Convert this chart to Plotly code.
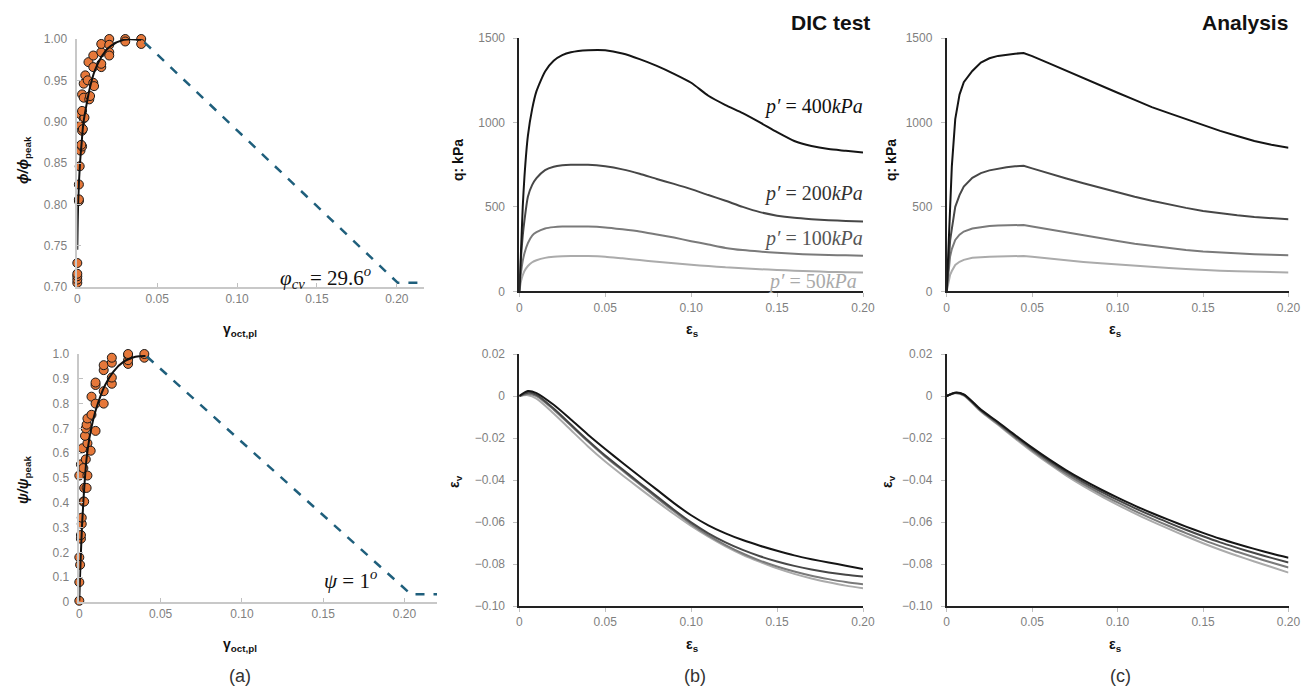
import plotly.graph_objects as go

W, H = 1307, 687

# ---------------- Panel (a) data ----------------
phi_pts_x = [0, 0, 0, 0, 0, 0.001, 0.001, 0.001, 0.0015, 0.002, 0.003, 0.0025,
             0.002, 0.003, 0.0035, 0.002, 0.004, 0.0045, 0.003, 0.003, 0.004, 0.0075, 0.008,
             0.004, 0.005, 0.0065, 0.01, 0.0105, 0.007, 0.01, 0.01,
             0.015, 0.015, 0.015, 0.015, 0.02, 0.02, 0.02, 0.02, 0.03, 0.03, 0.04, 0.04]
phi_pts_y = [0.705, 0.709, 0.713, 0.716, 0.729, 0.804, 0.806, 0.824, 0.846, 0.865, 0.870, 0.872,
             0.895, 0.889, 0.891, 0.909, 0.904, 0.905, 0.913, 0.933, 0.929, 0.927, 0.931,
             0.946, 0.956, 0.950, 0.947, 0.943, 0.972, 0.966, 0.980,
             0.966, 0.970, 0.984, 0.994, 1.0, 0.993, 0.984, 0.980, 1.0, 0.997, 1.0, 0.994]
phi_fit_x = [0, 0.0006, 0.0017, 0.0027, 0.0038, 0.0059, 0.008, 0.011, 0.0153, 0.0205, 0.029, 0.04]
phi_fit_y = [0.745, 0.805, 0.85, 0.874, 0.898, 0.922, 0.942, 0.962, 0.979, 0.991, 0.999, 0.999]
phi_soft_x = [0.042, 0.2006, 0.2175]
phi_soft_y = [0.996, 0.705, 0.705]

psi_pts_x = [0, 0, 0, 0.0005, 0.001, 0.001, 0.0015, 0.0015, 0.0025, 0.003, 0.003, 0.0045,
             0, 0.005, 0.001, 0.0025, 0.004, 0.002, 0.005, 0.007, 0.0035, 0.004, 0.0045,
             0.005, 0.0075, 0.01, 0.0075, 0.01, 0.01, 0.01, 0.015, 0.015, 0.015, 0.015,
             0.02, 0.02, 0.02, 0.02, 0.03, 0.03, 0.03, 0.03, 0.04, 0.04]
psi_pts_y = [0.005, 0.08, 0.18, 0.15, 0.255, 0.27, 0.315, 0.34, 0.405, 0.405, 0.46, 0.46,
             0.51, 0.51, 0.555, 0.54, 0.575, 0.62, 0.64, 0.61, 0.67, 0.70, 0.715,
             0.74, 0.755, 0.69, 0.828, 0.80, 0.875, 0.885, 0.80, 0.85, 0.935, 0.955,
             0.88, 0.905, 0.965, 0.985, 0.96, 0.975, 0.995, 1.0, 0.985, 1.0]
psi_fit_x = [0, 0.0004, 0.001, 0.0017, 0.0025, 0.0033, 0.0045, 0.0062, 0.0087, 0.0118, 0.0159,
             0.021, 0.0273, 0.0345, 0.0407]
psi_fit_y = [0.005, 0.095, 0.2, 0.31, 0.405, 0.485, 0.58, 0.66, 0.74, 0.808, 0.875,
             0.929, 0.969, 0.989, 0.992]
psi_soft_x = [0.0415, 0.204, 0.22]
psi_soft_y = [0.99, 0.031, 0.031]

# ---------------- Panel (b) DIC test ----------------
dic_q_x = [0, 0.001, 0.002, 0.003, 0.005, 0.0075, 0.01, 0.015, 0.02, 0.025, 0.03, 0.04,
           0.05, 0.06, 0.07, 0.08, 0.09, 0.10, 0.11, 0.12, 0.13, 0.14, 0.15, 0.16, 0.17,
           0.18, 0.19, 0.20]
dic_q_400 = [0, 240, 500, 680, 920, 1080, 1185, 1302, 1365, 1398, 1415, 1427, 1427, 1408,
             1375, 1335, 1288, 1235, 1158, 1103, 1055, 1000, 942, 890, 860, 842, 832, 822]
dic_q_200 = [0, 200, 330, 420, 560, 630, 670, 718, 738, 746, 749, 749, 740, 722, 696, 665,
             636, 605, 570, 536, 500, 469, 448, 435, 427, 421, 417, 413]
dic_q_100 = [0, 110, 180, 225, 285, 330, 350, 372, 380, 383, 383, 383, 378, 367, 354, 336,
             318, 297, 277, 257, 244, 235, 228, 222, 218, 215, 213, 211]
dic_q_50 = [0, 60, 95, 120, 150, 172, 184, 198, 204, 207, 209, 209, 205, 195, 185, 175,
            166, 157, 150, 142, 137, 131, 126, 122, 119, 115, 113, 111]

ev_x = [0, 0.005, 0.01, 0.02, 0.03, 0.04, 0.05, 0.06, 0.07, 0.08, 0.09, 0.10, 0.11, 0.12,
        0.13, 0.14, 0.15, 0.16, 0.17, 0.18, 0.19, 0.20]
dic_ev_400 = [0, 0.0024, 0.0014, -0.0042, -0.0112, -0.0184, -0.0252, -0.0318, -0.0382,
              -0.0446, -0.0510, -0.0568, -0.0616, -0.0654, -0.0686, -0.0713, -0.0737,
              -0.0759, -0.0777, -0.0793, -0.0808, -0.0824]
dic_ev_200 = [0, 0.0016, 0.0005, -0.0060, -0.0136, -0.0212, -0.0284, -0.0349, -0.0414,
              -0.0478, -0.0542, -0.0602, -0.0654, -0.0697, -0.0733, -0.0763, -0.0788,
              -0.0809, -0.0826, -0.0840, -0.0851, -0.0860]
dic_ev_100 = [0, 0.0010, 0.0000, -0.0065, -0.0141, -0.0217, -0.0289, -0.0355, -0.0420,
              -0.0485, -0.0549, -0.0610, -0.0664, -0.0710, -0.0750, -0.0784, -0.0812,
              -0.0836, -0.0856, -0.0872, -0.0886, -0.0897]
dic_ev_50 = [0, 0.0004, -0.0012, -0.0083, -0.0162, -0.0240, -0.0312, -0.0377, -0.0440,
             -0.0502, -0.0562, -0.0619, -0.0670, -0.0716, -0.0756, -0.0790, -0.0821,
             -0.0847, -0.0869, -0.0887, -0.0903, -0.0916]

# ---------------- Panel (c) Analysis ----------------
ana_q_x = [0, 0.001, 0.002, 0.003, 0.005, 0.0075, 0.01, 0.015, 0.02, 0.025, 0.03, 0.035,
           0.04, 0.045, 0.05, 0.06, 0.07, 0.08, 0.09, 0.10, 0.11, 0.12, 0.13, 0.14, 0.15,
           0.16, 0.17, 0.18, 0.19, 0.20]
ana_q_400 = [0, 265, 520, 740, 1020, 1165, 1238, 1305, 1355, 1380, 1394, 1402, 1407, 1411,
             1393, 1350, 1306, 1260, 1217, 1176, 1134, 1091, 1055, 1020, 985, 950, 920, 890,
             868, 850]
ana_q_200 = [0, 165, 300, 370, 500, 570, 620, 672, 700, 716, 727, 735, 740, 743, 728, 697,
             668, 640, 612, 588, 560, 536, 513, 494, 476, 462, 450, 440, 432, 427]
ana_q_100 = [0, 120, 206, 250, 304, 335, 354, 372, 381, 386, 389, 391, 392, 393, 384, 366,
             349, 332, 314, 298, 282, 268, 255, 244, 235, 229, 224, 220, 217, 214]
ana_q_50 = [0, 60, 97, 120, 156, 175, 186, 198, 203, 205, 206, 207, 208, 209, 204, 193, 183,
            174, 166, 158, 150, 144, 138, 132, 126, 122, 119, 116, 113, 111]

ana_ev_400 = [0, 0.0016, 0.0008, -0.0065, -0.0124, -0.0186, -0.0246, -0.0302, -0.0354,
              -0.0401, -0.0444, -0.0484, -0.0522, -0.0557, -0.0590, -0.0622, -0.0652,
              -0.0680, -0.0705, -0.0728, -0.0750, -0.0770]
ana_ev_200 = [0, 0.0015, 0.0006, -0.0068, -0.0128, -0.0191, -0.0252, -0.0309, -0.0362,
              -0.0410, -0.0454, -0.0495, -0.0534, -0.0570, -0.0604, -0.0637, -0.0668,
              -0.0697, -0.0723, -0.0748, -0.0771, -0.0793]
ana_ev_100 = [0, 0.0014, 0.0004, -0.0071, -0.0133, -0.0197, -0.0259, -0.0317, -0.0371,
              -0.0420, -0.0465, -0.0507, -0.0547, -0.0584, -0.0619, -0.0653, -0.0685,
              -0.0715, -0.0742, -0.0768, -0.0793, -0.0817]
ana_ev_50 = [0, 0.0013, 0.0002, -0.0074, -0.0137, -0.0202, -0.0265, -0.0324, -0.0379,
             -0.0429, -0.0475, -0.0518, -0.0559, -0.0597, -0.0633, -0.0668, -0.0701,
             -0.0732, -0.0761, -0.0788, -0.0814, -0.0841]

pressure_labels = ["400kPa", "200kPa", "100kPa", "50kPa"]
gray_colors = ["#151515", "#474747", "#7a7a7a", "#ababab"]

x_ticks = [0, 0.05, 0.10, 0.15, 0.20]
x_ticktext = ["0", "0.05", "0.10", "0.15", "0.20"]
phi_ticks = [0.70, 0.75, 0.80, 0.85, 0.90, 0.95, 1.00]
phi_ticktext = ["0.70", "0.75", "0.80", "0.85", "0.90", "0.95", "1.00"]
psi_ticks = [0, 0.1, 0.2, 0.3, 0.4, 0.5, 0.6, 0.7, 0.8, 0.9, 1.0]
psi_ticktext = ["0", "0.1", "0.2", "0.3", "0.4", "0.5", "0.6", "0.7", "0.8", "0.9", "1.0"]
q_ticks = [0, 500, 1000, 1500]
ev_ticks = [0.02, 0, -0.02, -0.04, -0.06, -0.08, -0.10]
ev_ticktext = ["0.02", "0", "\u22120.02", "\u22120.04", "\u22120.06", "\u22120.08", "\u22120.10"]

# ---------------- figure ----------------
def px_x(p):
    return p / W


def px_y(p):
    return 1 - p / H


ORANGE = "#E6783A"
TEAL = "#1F5F7C"
TICKFONT = dict(family="Liberation Sans, Arial, sans-serif", size=12, color="#7f7f7f")

fig = go.Figure()

# (a) top
fig.add_trace(go.Scatter(x=phi_pts_x, y=phi_pts_y, mode="markers", xaxis="x", yaxis="y",
                         marker=dict(size=9, color=ORANGE, line=dict(color="#1a1a1a", width=1)),
                         cliponaxis=False, showlegend=False))
fig.add_trace(go.Scatter(x=phi_fit_x, y=phi_fit_y, mode="lines", xaxis="x", yaxis="y",
                         line=dict(color="#111111", width=2, shape="spline"),
                         cliponaxis=False, showlegend=False))
fig.add_trace(go.Scatter(x=phi_soft_x, y=phi_soft_y, mode="lines", xaxis="x", yaxis="y",
                         line=dict(color=TEAL, width=2.5, dash="dash"),
                         cliponaxis=False, showlegend=False))
# (a) bottom
fig.add_trace(go.Scatter(x=psi_pts_x, y=psi_pts_y, mode="markers", xaxis="x2", yaxis="y2",
                         marker=dict(size=9, color=ORANGE, line=dict(color="#1a1a1a", width=1)),
                         cliponaxis=False, showlegend=False))
fig.add_trace(go.Scatter(x=psi_fit_x, y=psi_fit_y, mode="lines", xaxis="x2", yaxis="y2",
                         line=dict(color="#111111", width=2, shape="spline"),
                         cliponaxis=False, showlegend=False))
fig.add_trace(go.Scatter(x=psi_soft_x, y=psi_soft_y, mode="lines", xaxis="x2", yaxis="y2",
                         line=dict(color=TEAL, width=2.5, dash="dash"),
                         cliponaxis=False, showlegend=False))

# (b) & (c)
dic_q = [dic_q_400, dic_q_200, dic_q_100, dic_q_50]
dic_ev = [dic_ev_400, dic_ev_200, dic_ev_100, dic_ev_50]
ana_q = [ana_q_400, ana_q_200, ana_q_100, ana_q_50]
ana_ev = [ana_ev_400, ana_ev_200, ana_ev_100, ana_ev_50]
for i in range(3, -1, -1):
    c = gray_colors[i]
    fig.add_trace(go.Scatter(x=dic_q_x, y=dic_q[i], mode="lines", xaxis="x3", yaxis="y3",
                             line=dict(color=c, width=2, shape="spline", smoothing=0.6),
                             cliponaxis=False, showlegend=False, name=pressure_labels[i]))
    fig.add_trace(go.Scatter(x=ev_x, y=dic_ev[i], mode="lines", xaxis="x4", yaxis="y4",
                             line=dict(color=c, width=2, shape="spline", smoothing=0.8),
                             cliponaxis=False, showlegend=False, name=pressure_labels[i]))
    fig.add_trace(go.Scatter(x=ana_q_x, y=ana_q[i], mode="lines", xaxis="x5", yaxis="y5",
                             line=dict(color=c, width=2),
                             cliponaxis=False, showlegend=False, name=pressure_labels[i]))
    fig.add_trace(go.Scatter(x=ev_x, y=ana_ev[i], mode="lines", xaxis="x6", yaxis="y6",
                             line=dict(color=c, width=2, shape="spline", smoothing=0.8),
                             cliponaxis=False, showlegend=False, name=pressure_labels[i]))


def xax(dom, rng, anchor, linecolor, lw, ticks="outside", tickcolor="#c0c0c0"):
    return dict(domain=dom, range=rng, anchor=anchor, showgrid=False, zeroline=False,
                showline=True, linecolor=linecolor, linewidth=lw, tickvals=x_ticks,
                ticktext=x_ticktext, tickfont=TICKFONT, ticks=ticks, ticklen=4,
                tickcolor=tickcolor, fixedrange=True, automargin=False)


def yax(dom, rng, anchor, linecolor, lw, tv, tt, ticks="outside", tickcolor="#c0c0c0"):
    return dict(domain=dom, range=rng, anchor=anchor, showgrid=False, zeroline=False,
                showline=True, linecolor=linecolor, linewidth=lw, tickvals=tv, ticktext=tt,
                tickfont=TICKFONT, ticks=ticks, ticklen=4, tickcolor=tickcolor,
                ticklabelstandoff=6, fixedrange=True, automargin=False)


ax_a_top_x = [px_x(77.3), px_x(424)]
ax_a_top_y = [px_y(287), px_y(39)]
ax_a_bot_x = [px_x(79.3), px_x(437)]
ax_a_bot_y = [px_y(602), px_y(354)]
ax_b_x = [px_x(519.3), px_x(863)]
ax_c_x = [px_x(946.7), px_x(1288.5)]
ax_top_y = [px_y(291.3), px_y(38)]
ax_bot_y = [px_y(606), px_y(354)]

fig.update_layout(
    width=W, height=H, margin=dict(l=0, r=0, t=0, b=0, pad=0, autoexpand=False),
    paper_bgcolor="white", plot_bgcolor="white", showlegend=False,
    xaxis=xax(ax_a_top_x, [0, 0.217], "y", "#c8c8c8", 1.5, "inside"),
    yaxis=yax(ax_a_top_y, [0.70, 1.00], "x", "#c8c8c8", 1.5, phi_ticks, phi_ticktext, "inside"),
    xaxis2=xax(ax_a_bot_x, [0, 0.22], "y2", "#c8c8c8", 1.5, "inside"),
    yaxis2=yax(ax_a_bot_y, [0, 1.0], "x2", "#c8c8c8", 1.5, psi_ticks, psi_ticktext, "inside"),
    xaxis3=xax(ax_b_x, [0, 0.2], "y3", "#222222", 1.8),
    yaxis3=yax(ax_top_y, [0, 1500], "x3", "#222222", 1.8, q_ticks, [str(v) for v in q_ticks]),
    xaxis4=xax(ax_b_x, [0, 0.2], "y4", "#222222", 1.8),
    yaxis4=yax(ax_bot_y, [-0.10, 0.02], "x4", "#222222", 1.8, ev_ticks, ev_ticktext),
    xaxis5=xax(ax_c_x, [0, 0.2], "y5", "#222222", 1.8),
    yaxis5=yax(ax_top_y, [0, 1500], "x5", "#222222", 1.8, q_ticks, [str(v) for v in q_ticks]),
    xaxis6=xax(ax_c_x, [0, 0.2], "y6", "#222222", 1.8),
    yaxis6=yax(ax_bot_y, [-0.10, 0.02], "x6", "#222222", 1.8, ev_ticks, ev_ticktext),
)

SANS = "Liberation Sans, Arial, sans-serif"
SERIF = "Liberation Serif, DejaVu Serif, serif"
ann = []


def note(x, y, text, size=14, color="#111111", family=SANS, xanchor="center",
         yanchor="middle", angle=0):
    ann.append(dict(x=px_x(x), y=px_y(y), xref="paper", yref="paper", text=text,
                    showarrow=False, font=dict(size=size, color=color, family=family),
                    xanchor=xanchor, yanchor=yanchor, textangle=angle))


# axis titles
note(24, 160, "<b><i>ϕ/ϕ</i><sub>peak</sub></b>", 14, angle=-90)
note(24, 480, "<b><i>ψ/ψ</i><sub>peak</sub></b>", 14, angle=-90)
note(240, 330, "<b>γ<sub>oct,pl</sub></b>", 14)
note(240, 645, "<b>γ<sub>oct,pl</sub></b>", 14)
note(458, 160, "<b>q: kPa</b>", 14, angle=-90)
note(891, 160, "<b>q: kPa</b>", 14, angle=-90)
note(455, 482, "<b>ε<sub>v</sub></b>", 14, angle=-90)
note(888, 482, "<b>ε<sub>v</sub></b>", 14, angle=-90)
note(692, 330, "<b>ε<sub>s</sub></b>", 14)
note(1115, 330, "<b>ε<sub>s</sub></b>", 14)
note(692, 645, "<b>ε<sub>s</sub></b>", 14)
note(1115, 645, "<b>ε<sub>s</sub></b>", 14)

# panel labels
note(240, 676, "(a)", 18, "#333333")
note(695, 676, "(b)", 18, "#333333")
note(1120, 676, "(c)", 18, "#333333")

# headings
note(830, 22, "<b>DIC test</b>", 21, "#111111")
note(1245, 22, "<b>Analysis</b>", 21, "#111111")

# in-plot math labels
note(325, 277, "<i>φ<sub>cv</sub></i> = 29.6<sup><i>o</i></sup>", 21, "#111111", SERIF)
note(350, 579, "<i>ψ</i> = 1<sup><i>o</i></sup>", 21, "#111111", SERIF)
label_y = [106, 193, 238, 281]
label_x = [813, 813, 813, 812]
for lbl, xx, yy, col in zip(pressure_labels, label_x, label_y,
                            ["#111111", "#333333", "#555555", "#aaaaaa"]):
    note(xx, yy, "<i>p′</i> = " + lbl[:-3] + "<i>kPa</i>", 20, col, SERIF)

fig.update_layout(annotations=ann)
fig.write_html("out.html")
